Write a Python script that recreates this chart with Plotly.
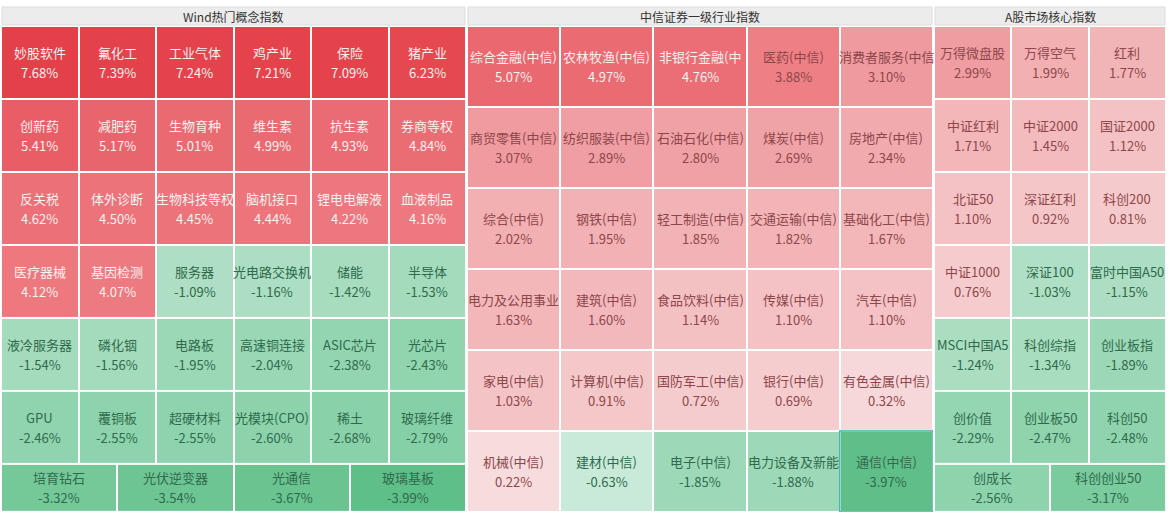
import numpy as np
import plotly.graph_objects as go

# ---------------- data ----------------
wind_title = "Wind热门概念指数"
wind_names = [
    "妙股软件", "氟化工", "工业气体", "鸡产业", "保险", "猪产业",
    "创新药", "减肥药", "生物育种", "维生素", "抗生素", "券商等权",
    "反关税", "体外诊断", "生物科技等权", "脑机接口", "锂电电解液", "血液制品",
    "医疗器械", "基因检测", "服务器", "光电路交换机", "储能", "半导体",
    "液冷服务器", "磷化铟", "电路板", "高速铜连接", "ASIC芯片", "光芯片",
    "GPU", "覆铜板", "超硬材料", "光模块(CPO)", "稀土", "玻璃纤维",
    "培育钻石", "光伏逆变器", "光通信", "玻璃基板",
]
wind_values = [
    7.68, 7.39, 7.24, 7.21, 7.09, 6.23,
    5.41, 5.17, 5.01, 4.99, 4.93, 4.84,
    4.62, 4.50, 4.45, 4.44, 4.22, 4.16,
    4.12, 4.07, -1.09, -1.16, -1.42, -1.53,
    -1.54, -1.56, -1.95, -2.04, -2.38, -2.43,
    -2.46, -2.55, -2.55, -2.60, -2.68, -2.79,
    -3.32, -3.54, -3.67, -3.99,
]
wind_row_sizes = [6, 6, 6, 6, 6, 6, 4]

citic_title = "中信证券一级行业指数"
citic_names = [
    "综合金融(中信)", "农林牧渔(中信)", "非银行金融(中", "医药(中信)", "消费者服务(中信",
    "商贸零售(中信)", "纺织服装(中信)", "石油石化(中信)", "煤炭(中信)", "房地产(中信)",
    "综合(中信)", "钢铁(中信)", "轻工制造(中信)", "交通运输(中信)", "基础化工(中信)",
    "电力及公用事业", "建筑(中信)", "食品饮料(中信)", "传媒(中信)", "汽车(中信)",
    "家电(中信)", "计算机(中信)", "国防军工(中信)", "银行(中信)", "有色金属(中信)",
    "机械(中信)", "建材(中信)", "电子(中信)", "电力设备及新能", "通信(中信)",
]
citic_values = [
    5.07, 4.97, 4.76, 3.88, 3.10,
    3.07, 2.89, 2.80, 2.69, 2.34,
    2.02, 1.95, 1.85, 1.82, 1.67,
    1.63, 1.60, 1.14, 1.10, 1.10,
    1.03, 0.91, 0.72, 0.69, 0.32,
    0.22, -0.63, -1.85, -1.88, -3.97,
]
citic_row_sizes = [5, 5, 5, 5, 5, 5]
citic_highlight = "通信(中信)"

ashare_title = "A股市场核心指数"
ashare_names = [
    "万得微盘股", "万得空气", "红利",
    "中证红利", "中证2000", "国证2000",
    "北证50", "深证红利", "科创200",
    "中证1000", "深证100", "富时中国A50",
    "MSCI中国A5", "科创综指", "创业板指",
    "创价值", "创业板50", "科创50",
    "创成长", "科创创业50",
]
ashare_values = [
    2.99, 1.99, 1.77,
    1.71, 1.45, 1.12,
    1.10, 0.92, 0.81,
    0.76, -1.03, -1.15,
    -1.24, -1.34, -1.89,
    -2.29, -2.47, -2.48,
    -2.56, -3.17,
]
ashare_row_sizes = [3, 3, 3, 3, 3, 3, 2]

# ---------------- style ----------------
W, H = 1170, 524
FONT = "Noto Sans CJK SC, Microsoft YaHei, sans-serif"
ZMIN, ZMAX = -4.0, 7.7
color_stops = [
    (-4.0, "#5fbf88"), (-2.5, "#8fd4ae"), (-1.0, "#b0dfc5"), (-0.5, "#d2ece0"),
    (0.0, "#f8e6e7"), (0.3, "#f6d9db"), (1.0, "#f4c4c6"), (2.0, "#f2b0b3"),
    (3.0, "#ef9da1"), (4.0, "#ed7b81"), (5.0, "#ea6a72"), (6.2, "#e6484f"),
    (7.7, "#e3404a"),
]
colorscale = [[(v - ZMIN) / (ZMAX - ZMIN), c] for v, c in color_stops]


def text_color(v):
    if v >= 4.0:
        return "#fdf0f0"
    if v > 0:
        return "#8e464b"
    return "#2f6a4c"


# panel layout: (title, names, values, row_sizes, ncols, last-row height, x extent in px)
panels = [
    (wind_title, wind_names, wind_values, wind_row_sizes, 6, 0.66, (1, 466)),
    (citic_title, citic_names, citic_values, citic_row_sizes, 5, 1.0, (467, 933)),
    (ashare_title, ashare_names, ashare_values, ashare_row_sizes, 3, 0.66, (934, 1166)),
]

fig = go.Figure()
annotations = []
shapes = []
cell_top_px, cell_bot_px = 26, 512
ydom = [(H - cell_bot_px) / H, (H - cell_top_px) / H]

for p, (title, names, values, row_sizes, ncols, last_h, (px0, px1)) in enumerate(panels):
    sfx = "" if p == 0 else str(p + 1)
    xa, ya = "x" + sfx, "y" + sfx
    heights = [1.0] * (len(row_sizes) - 1) + [last_h]
    total = sum(heights)
    y0 = 0.0
    idx = 0
    for n, h in zip(row_sizes, heights):
        edges = np.linspace(0, ncols, n + 1)
        vals = values[idx:idx + n]
        labs = names[idx:idx + n]
        fig.add_trace(go.Heatmap(
            x=edges, y=[y0, y0 + h], z=[vals],
            colorscale=colorscale, zmin=ZMIN, zmax=ZMAX, showscale=False,
            xgap=2, ygap=2, hoverinfo="skip", xaxis=xa, yaxis=ya,
        ))
        for k in range(n):
            cx = (edges[k] + edges[k + 1]) / 2
            cy = y0 + h / 2
            col = text_color(vals[k])
            annotations.append(dict(x=cx, y=cy, xref=xa, yref=ya, text=labs[k],
                                    showarrow=False, yshift=10, yanchor="middle",
                                    font=dict(family=FONT, size=13, color=col)))
            annotations.append(dict(x=cx, y=cy, xref=xa, yref=ya, text=f"{vals[k]:.2f}%",
                                    showarrow=False, yshift=-10, yanchor="middle",
                                    font=dict(family=FONT, size=13, color=col)))
            if p == 1 and labs[k] == citic_highlight:
                shapes.append(dict(type="rect", xref=xa, yref=ya,
                                   x0=edges[k], x1=edges[k + 1], y0=y0, y1=y0 + h,
                                   line=dict(color="#3fb3b0", width=1.5),
                                   fillcolor="rgba(0,0,0,0)"))
        idx += n
        y0 += h
    dom = [px0 / W, px1 / W]
    fig.update_layout(**{
        ("xaxis" + sfx): dict(domain=dom, range=[0, ncols], visible=False, fixedrange=True,
                              anchor=ya),
        ("yaxis" + sfx): dict(domain=ydom, range=[total, 0], visible=False, fixedrange=True,
                              anchor=xa),
    })
    # header band
    shapes.append(dict(type="rect", xref="paper", yref="paper",
                       x0=(px0 + 1) / W, x1=(px1 - 1) / W,
                       y0=(H - 25) / H, y1=(H - 7) / H,
                       fillcolor="#ececec", line=dict(color="#dcdcdc", width=1), layer="above"))
    annotations.append(dict(x=(px0 + px1) / 2 / W, y=(H - 16) / H, xref="paper", yref="paper",
                            text=title, showarrow=False, yanchor="middle", xanchor="center",
                            font=dict(family=FONT, size=12, color="#333333")))

fig.update_layout(
    width=W, height=H,
    margin=dict(l=0, r=0, t=0, b=0),
    paper_bgcolor="white", plot_bgcolor="white",
    showlegend=False,
    annotations=annotations,
    shapes=shapes,
)

fig.write_html("out.html")
